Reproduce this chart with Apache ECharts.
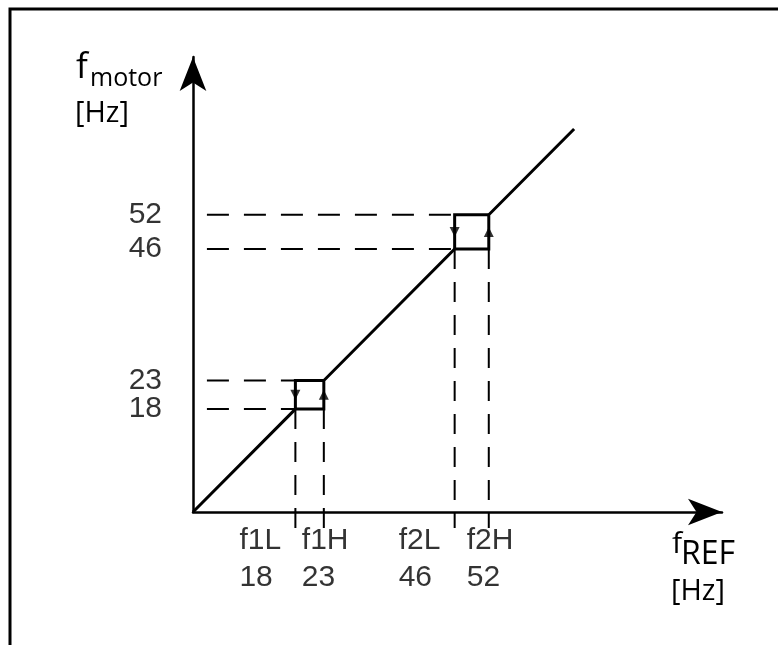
<!DOCTYPE html>
<html>
<head>
<meta charset="utf-8">
<script src="https://cdn.jsdelivr.net/npm/echarts@6/dist/echarts.min.js"></script>
<style>
html,body{margin:0;padding:0;background:#fff;}
#chart{width:778px;height:645px;}
</style>
</head>
<body>
<div id="chart"></div>
<script>
// ---- data ----
const xTickValues = [18, 23, 46, 52];
const xTickNames = ['f1L', 'f1H', 'f2L', 'f2H'];
const yTickValues = [18, 23, 46, 52];
// rising path (f_REF, f_motor)
const risingPath = [[0, 0], [18, 18], [23, 18], [23, 23], [46, 46], [52, 46], [52, 52], [67, 67]];
// falling branches of the hysteresis boxes
const fallingBox1 = [[23, 23], [18, 23], [18, 18]];
const fallingBox2 = [[52, 52], [46, 52], [46, 46]];
const downArrows = [[18, 20.5], [46, 49]];
const upArrows = [[23, 20.5], [52, 49]];
// where each guide line meets the curve
const hGuideEndX = [18, 18, 46, 46];   // for yTickValues
const vGuideStartY = [18, 18, 46, 46]; // for xTickValues
const guideLeftX = -2.3;
const guideBottomY = -2.8;
const xMax = 93, yMax = 79.6;

// ---- styles ----
const labelDx = [-56, -22, -56, -22];
const BLACK = '#000';
const LABEL_FONT = 'Liberation Sans, Arial, sans-serif';
const TITLE_FONT = 'Open Sans, sans-serif';

const chart = echarts.init(document.getElementById('chart'), null, {renderer: 'canvas'});

const series = [];
yTickValues.forEach((v, i) => {
  series.push({
    type: 'line', data: [[guideLeftX, v], [hGuideEndX[i], v]], symbol: 'none', clip: false, silent: true,
    lineStyle: {color: BLACK, width: 2, type: [22, 15], dashOffset: 10}, z: 1
  });
});
xTickValues.forEach((v, i) => {
  series.push({
    type: 'line', data: [[v, vGuideStartY[i]], [v, guideBottomY]], symbol: 'none', clip: false, silent: true,
    lineStyle: {color: BLACK, width: 2, type: [20, 13]}, z: 1
  });
});
series.push({
  type: 'line', data: risingPath, symbol: 'none', clip: false,
  lineStyle: {color: BLACK, width: 3, join: 'miter'}, z: 3
});
[fallingBox1, fallingBox2].forEach(b => series.push({
  type: 'line', data: b, symbol: 'none', clip: false,
  lineStyle: {color: BLACK, width: 3, join: 'miter'}, z: 3
}));
series.push({
  type: 'scatter', data: downArrows, symbol: 'triangle', symbolSize: [10, 10], symbolRotate: 180,
  itemStyle: {color: BLACK}, clip: false, z: 4
});
series.push({
  type: 'scatter', data: upArrows, symbol: 'triangle', symbolSize: [10, 10],
  itemStyle: {color: BLACK}, clip: false, z: 4
});
// x tick labels
series.push({
  type: 'scatter', clip: false, silent: true, symbolSize: 0,
  itemStyle: {color: BLACK},
  data: xTickValues.map((v, i) => ({value: [v, 0], label: {offset: [labelDx[i], 0]}})),
  label: {
    show: true, position: 'bottom', distance: 10, align: 'left',
    fontSize: 30, lineHeight: 37, fontFamily: LABEL_FONT, color: BLACK,
    formatter: p => xTickNames[p.dataIndex] + '\n' + xTickValues[p.dataIndex]
  }, z: 5
});
// y tick labels
series.push({
  type: 'scatter', clip: false, silent: true, symbolSize: 0,
  itemStyle: {color: BLACK},
  data: yTickValues.map(v => [0, v]),
  label: {
    show: true, position: 'left', distance: 31,
    fontSize: 30, fontFamily: LABEL_FONT, color: BLACK,
    formatter: p => String(yTickValues[p.dataIndex])
  }, z: 5
});

const option = {
  animation: false,
  backgroundColor: '#fff',
  grid: {left: 193, right: 56, top: 57, bottom: 133, containLabel: false},
  xAxis: {
    type: 'value', min: 0, max: xMax,
    axisLine: {show: true, onZero: false, symbol: ['none', 'arrow'], symbolSize: [20, 34],
      lineStyle: {color: BLACK, width: 2.5}},
    axisTick: {show: false}, axisLabel: {show: false}, splitLine: {show: false}
  },
  yAxis: {
    type: 'value', min: 0, max: yMax,
    axisLine: {show: true, onZero: false, symbol: ['none', 'arrow'], symbolSize: [20, 34],
      lineStyle: {color: BLACK, width: 2.5}},
    axisTick: {show: false}, splitLine: {show: false}, axisLabel: {show: false}
  },
  graphic: [
    {type: 'rect', shape: {x: 10, y: 9, width: 900, height: 900}, style: {fill: 'none', stroke: BLACK, lineWidth: 3}, silent: true},
    {type: 'text', x: 76, y: 68, style: {text: 'f', font: '35px ' + TITLE_FONT, fill: BLACK, verticalAlign: 'middle'}},
    {type: 'text', x: 90, y: 79, style: {text: 'motor', font: '25px ' + TITLE_FONT, fill: BLACK, verticalAlign: 'middle'}},
    {type: 'text', x: 75, y: 114, style: {text: '[Hz]', font: '29px ' + TITLE_FONT, fill: BLACK, verticalAlign: 'middle'}},
    {type: 'text', x: 672, y: 544, style: {text: 'f', font: '30px ' + TITLE_FONT, fill: BLACK, verticalAlign: 'middle'}},
    {type: 'text', x: 681, y: 555, style: {text: 'REF', font: '32px ' + TITLE_FONT, fill: BLACK, verticalAlign: 'middle'}},
    {type: 'text', x: 671, y: 592, style: {text: '[Hz]', font: '29px ' + TITLE_FONT, fill: BLACK, verticalAlign: 'middle'}}
  ],
  series: series
};
chart.setOption(option);
</script>
</body>
</html>
